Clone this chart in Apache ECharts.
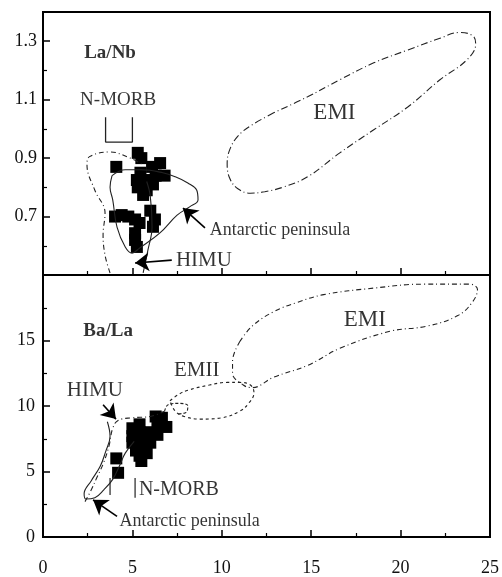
<!DOCTYPE html>
<html>
<head>
<meta charset="utf-8">
<script src="https://cdn.jsdelivr.net/npm/echarts@6/dist/echarts.min.js"></script>
<style>
  html, body { margin: 0; padding: 0; background: #fff; }
  #chart { width: 502px; height: 577px; }
</style>
</head>
<body>
<div id="chart"></div>
<script>
// x axis, shared by both panels
var xTicks = [0, 5, 10, 15, 20, 25]

// samples
var laNbPoints = [
  [4.1, 0.87], [5.3, 0.918], [5.5, 0.9], [6.1, 0.87], [6.55, 0.883], [6.8, 0.84],
  [5.25, 0.825], [5.8, 0.825], [6.15, 0.81], [5.3, 0.8], [5.8, 0.79], [5.6, 0.774],
  [5.45, 0.85], [6.3, 0.84], [6.0, 0.72], [6.26, 0.69], [6.15, 0.665],
  [4.03, 0.7], [4.4, 0.705], [4.77, 0.7], [5.15, 0.69], [5.4, 0.678],
  [5.15, 0.643], [5.15, 0.62], [5.25, 0.596]
]
var baLaPoints = [
  [4.1, 6.0], [4.2, 4.9], [5.0, 8.3], [5.4, 8.6], [5.3, 7.5], [5.9, 8.0],
  [6.4, 8.7], [6.65, 9.1], [6.9, 8.4], [6.4, 7.8], [5.6, 6.9], [5.4, 6.2],
  [5.0, 7.7], [5.0, 7.2], [6.2, 7.9], [6.0, 7.2], [5.8, 6.4], [5.5, 5.8],
  [5.6, 7.5], [5.2, 6.6], [6.3, 9.2], [5.4, 8.0]
]

// reference fields, La/Nb panel
var topEMI = [
  [12.9, 1.055], [11.6, 1.01], [10.9, 0.975], [10.45, 0.93], [10.3, 0.88],
  [10.45, 0.83], [10.9, 0.795], [11.6, 0.78], [12.4, 0.785], [13.4, 0.8],
  [14.8, 0.836], [16.6, 0.918], [18.5, 0.997], [20.4, 1.075], [22.2, 1.168],
  [23.7, 1.236], [24.2, 1.29], [24.05, 1.318], [23.3, 1.33], [22.2, 1.31],
  [20.4, 1.27], [18.5, 1.226], [16.6, 1.168], [14.8, 1.11], [12.9, 1.055]
]
var topHIMU = [
  [3.75, 0.507], [3.47, 0.568], [3.36, 0.637], [3.47, 0.712], [2.9, 0.79],
  [2.46, 0.877], [2.6, 0.905], [3.75, 0.921], [4.87, 0.9], [5.6, 0.877]
]
var topHIMURight = [[5.8, 0.82], [6.0, 0.77], [6.1, 0.664], [5.87, 0.586], [5.6, 0.507]]
var topAntarctic = [
  [3.86, 0.84], [3.75, 0.8], [3.9, 0.757], [4.14, 0.664], [4.6, 0.596],
  [4.98, 0.575], [5.4, 0.592], [6.54, 0.644], [7.5, 0.705], [8.2, 0.733],
  [8.67, 0.757], [8.6, 0.79], [8.1, 0.815], [7.4, 0.836], [6.7, 0.85],
  [5.5, 0.86], [4.6, 0.86], [3.86, 0.84]
]
var topNMORB = [[3.5, 1.04], [3.5, 0.955], [5.0, 0.955], [5.0, 1.04]]

// reference fields, Ba/La panel
var botEMI = [
  [11.0, 14.9], [11.7, 16.1], [12.9, 17.2], [14.2, 17.9], [15.7, 18.5],
  [18.5, 19.0], [21.3, 19.3], [23.9, 19.3], [24.3, 18.9], [24.0, 17.9],
  [23.2, 16.9], [21.5, 16.1], [19.4, 15.7], [16.6, 14.4], [14.8, 13.1],
  [12.9, 12.2], [11.7, 11.4], [11.2, 11.6], [10.6, 12.5], [10.6, 13.4], [11.0, 14.9]
]
var botEMII = [
  [7.1, 10.4], [7.6, 10.9], [8.1, 11.2], [9.3, 11.6], [10.3, 11.8], [11.0, 11.8],
  [11.6, 11.6], [11.8, 11.0], [11.5, 10.2], [11.0, 9.6], [10.0, 9.1], [8.8, 9.0],
  [7.9, 9.2], [7.4, 9.6], [7.1, 10.4]
]
var botCurl = [[6.8, 9.6], [7.0, 10.1], [7.6, 10.2], [8.1, 10.0], [8.0, 9.5], [7.5, 9.4]]
var botHIMU = [
  [2.35, 2.7], [2.7, 3.6], [3.0, 4.5], [3.4, 5.7], [3.7, 7.0], [3.9, 8.3],
  [4.2, 8.9], [5.0, 9.1], [6.0, 9.2], [6.8, 9.6]
]
var botAntarctic = [
  [3.6, 8.8], [3.75, 7.7], [3.5, 6.5], [3.2, 5.4], [2.7, 4.3], [2.3, 3.3],
  [2.4, 2.9], [2.9, 3.0], [3.4, 3.6], [3.9, 4.4], [4.3, 5.5], [4.6, 6.4], [5.1, 7.3]
]
var botNMORBLeft = [[3.75, 3.2], [3.75, 4.5]]
var botNMORBRight = [[5.15, 3.0], [5.15, 4.5]]

// annotations: [text, x, y, font size]
var topLabels = [
  ['N-MORB', 4.2, 1.1, 19], ['EMI', 16.3, 1.055, 23],
  ['Antarctic peninsula', 13.25, 0.654, 18], ['HIMU', 9.0, 0.551, 21]
]
var botLabels = [
  ['EMI', 18.0, 16.6, 23], ['EMII', 8.6, 12.7, 21], ['HIMU', 2.9, 11.2, 21],
  ['N-MORB', 7.6, 3.6, 20], ['Antarctic peninsula', 8.2, 1.2, 18]
]
var topTitle = ['La/Nb', 3.75, 1.26, 19]
var botTitle = ['Ba/La', 3.64, 15.7, 19]

// arrows: [fromX, fromY, toX, toY]
var topArrows = [[7.2, 0.551, 5.15, 0.541], [9.06, 0.661, 7.83, 0.729]]
var botArrows = [[3.36, 10.1, 4.08, 9.0], [4.14, 1.57, 2.8, 2.84]]

var serif = "'Liberation Serif', 'DejaVu Serif', serif"

function axisBase() {
  return {
    type: 'value',
    axisLine: { show: true, lineStyle: { color: '#000', width: 2 } },
    axisTick: { show: true, inside: true, length: 7, lineStyle: { color: '#000', width: 1.5 } },
    minorTick: { show: true, splitNumber: 2, length: 4, lineStyle: { color: '#000', width: 1.2 } },
    splitLine: { show: false },
    axisLabel: { fontFamily: serif, fontSize: 18, color: '#111' }
  }
}

function field(name, data, idx, type, width) {
  return {
    name: name,
    type: 'line',
    xAxisIndex: idx,
    yAxisIndex: idx,
    data: data,
    smooth: 0.4,
    showSymbol: false,
    silent: true,
    lineStyle: { color: '#222', width: width || 1.1, type: type }
  }
}

function labelSeries(list, idx, bold) {
  return {
    type: 'scatter',
    xAxisIndex: idx,
    yAxisIndex: idx,
    symbolSize: 1,
    silent: true,
    itemStyle: { color: 'rgba(0,0,0,0)' },
    data: list.map(function (l) {
      return {
        name: l[0],
        value: [l[1], l[2]],
        label: {
          show: true,
          position: 'inside',
          fontFamily: serif,
          fontSize: l[3],
          fontWeight: bold ? 'bold' : 'normal',
          color: '#000',
          formatter: l[0]
        }
      }
    })
  }
}

function arrowSeries(list, idx) {
  return {
    type: 'line',
    xAxisIndex: idx,
    yAxisIndex: idx,
    data: [],
    silent: true,
    markLine: {
      silent: true,
      symbol: ['none', 'arrow'],
      symbolSize: 14,
      label: { show: false },
      itemStyle: { color: '#000' },
      lineStyle: { color: '#000', width: 1.6, type: 'solid' },
      data: list.map(function (a) {
        return [{ coord: [a[0], a[1]] }, { coord: [a[2], a[3]] }]
      })
    }
  }
}

var xTop = axisBase()
xTop.gridIndex = 0
xTop.min = xTicks[0]
xTop.max = xTicks[xTicks.length - 1]
xTop.interval = 5
xTop.axisLabel = { show: false }

var xBot = axisBase()
xBot.gridIndex = 1
xBot.min = xTicks[0]
xBot.max = xTicks[xTicks.length - 1]
xBot.interval = 5
xBot.axisLabel.margin = 22

var yTop = axisBase()
yTop.gridIndex = 0
yTop.min = 0.5
yTop.max = 1.4
yTop.interval = 0.2
yTop.axisLabel.margin = 6
yTop.axisLabel.showMaxLabel = false
yTop.axisLabel.formatter = function (v) {
  return (Math.abs(v - 0.5) < 1e-6 || v > 1.35) ? '' : v.toFixed(1)
}

var yBot = axisBase()
yBot.gridIndex = 1
yBot.min = 0
yBot.max = 20
yBot.interval = 5
yBot.axisLabel.margin = 8
yBot.axisLabel.formatter = function (v) { return v === 20 ? '' : String(v) }

var option = {
  backgroundColor: '#fff',
  animation: false,
  grid: [
    { left: 43, right: 12, top: 12, height: 263, show: true, borderColor: '#000', borderWidth: 2 },
    { left: 43, right: 12, top: 275, height: 268, show: true, borderColor: '#000', borderWidth: 2 }
  ],
  xAxis: [xTop, xBot],
  yAxis: [yTop, yBot],
  series: [
    field('EMI', topEMI, 0, [7, 3, 1, 3]),
    field('HIMU', topHIMU, 0, [5, 3, 1, 3]),
    field('HIMU right', topHIMURight, 0, 'solid'),
    field('Antarctic peninsula', topAntarctic, 0, 'solid'),
    { type: 'line', xAxisIndex: 0, yAxisIndex: 0, data: topNMORB, showSymbol: false, silent: true,
      lineStyle: { color: '#222', width: 1.3 } },
    field('EMI', botEMI, 1, [5, 3, 1, 3]),
    field('EMII', botEMII, 1, [3, 3]),
    field('curl', botCurl, 1, [3, 2]),
    field('HIMU', botHIMU, 1, [5, 3, 1, 3]),
    field('Antarctic peninsula', botAntarctic, 1, 'solid'),
    { type: 'line', xAxisIndex: 1, yAxisIndex: 1, data: botNMORBLeft, showSymbol: false, silent: true,
      lineStyle: { color: '#222', width: 1.2 } },
    { type: 'line', xAxisIndex: 1, yAxisIndex: 1, data: botNMORBRight, showSymbol: false, silent: true,
      lineStyle: { color: '#222', width: 1.2 } },
    {
      name: 'samples La/Nb', type: 'scatter', xAxisIndex: 0, yAxisIndex: 0,
      symbol: 'rect', symbolSize: 12, itemStyle: { color: '#000', opacity: 1 }, data: laNbPoints
    },
    {
      name: 'samples Ba/La', type: 'scatter', xAxisIndex: 1, yAxisIndex: 1,
      symbol: 'rect', symbolSize: 12, itemStyle: { color: '#000', opacity: 1 }, data: baLaPoints
    },
    arrowSeries(topArrows, 0),
    arrowSeries(botArrows, 1),
    labelSeries(topLabels, 0, false),
    labelSeries([topTitle], 0, true),
    labelSeries(botLabels, 1, false),
    labelSeries([botTitle], 1, true)
  ]
}

var chart = echarts.init(document.getElementById('chart'))
chart.setOption(option)
</script>
</body>
</html>
